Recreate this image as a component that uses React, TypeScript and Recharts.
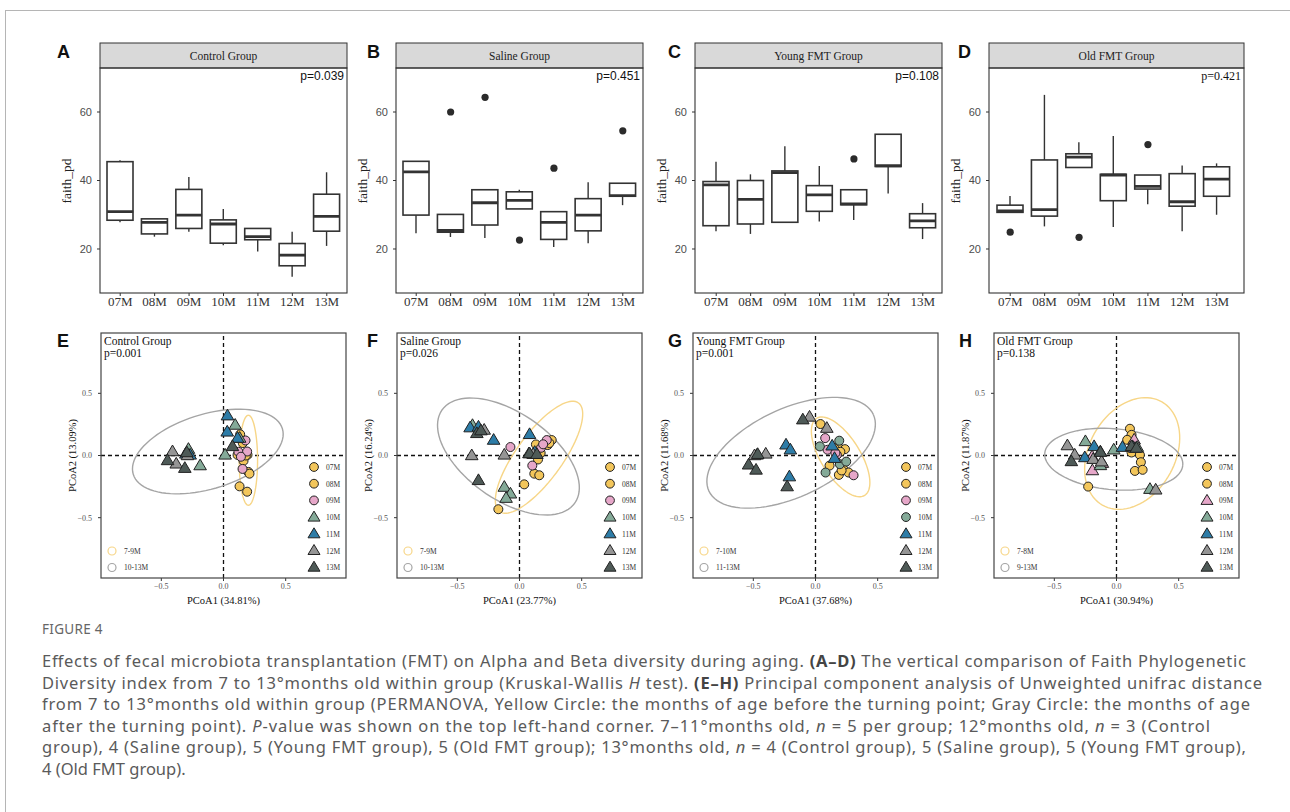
import React from "react";
import {
  ComposedChart,
  ScatterChart,
  Bar,
  Scatter,
  XAxis,
  YAxis,
  ReferenceLine,
} from "recharts";

const months = ["07M", "08M", "09M", "10M", "11M", "12M", "13M"];

// Faith PD box stats per month: whisker low, Q1, median, Q3, whisker high, outlier
const ctrlLow = [27.8, 23.6, 25.0, 21.1, 19.3, 11.9, 20.9];
const ctrlQ1 = [28.4, 24.4, 26.0, 21.7, 22.7, 15.1, 25.2];
const ctrlMed = [30.9, 27.8, 29.9, 27.3, 23.6, 18.2, 29.5];
const ctrlQ3 = [45.5, 28.8, 37.4, 28.5, 26.0, 21.6, 36.0];
const ctrlHigh = [45.9, 28.8, 41.0, 31.7, 26.0, 25.0, 42.4];
const ctrlOut = [null, null, null, null, null, null, null];

const salLow = [24.6, 23.5, 23.2, 31.7, 20.6, 21.7, 32.8];
const salQ1 = [29.9, 24.9, 27.0, 31.7, 22.8, 25.3, 35.4];
const salMed = [42.5, 25.4, 33.5, 34.2, 27.8, 29.9, 35.6];
const salQ3 = [45.6, 30.1, 37.3, 36.7, 30.9, 34.7, 39.2];
const salHigh = [45.6, 30.1, 37.3, 37.3, 30.9, 39.5, 39.2];
const salOut = [null, 60.0, 64.3, 22.6, 43.6, null, 54.5];

const youngLow = [25.2, 24.4, 27.8, 28.0, 28.5, 36.2, 22.9];
const youngQ1 = [26.8, 27.3, 27.8, 31.0, 32.9, 44.1, 26.2];
const youngMed = [38.7, 34.5, 42.3, 35.8, 33.2, 44.3, 28.2];
const youngQ3 = [39.7, 40.0, 42.8, 38.5, 37.3, 53.5, 30.3];
const youngHigh = [45.5, 41.8, 50.0, 44.2, 37.3, 53.5, 33.4];
const youngOut = [null, null, null, null, 46.3, null, null];

const oldLow = [30.7, 26.6, 43.8, 26.4, 33.1, 25.2, 30.0];
const oldQ1 = [30.7, 29.6, 43.8, 34.1, 37.5, 32.5, 35.4];
const oldMed = [31.1, 31.5, 46.8, 41.6, 38.3, 33.8, 40.4];
const oldQ3 = [32.8, 46.0, 47.8, 41.8, 41.6, 42.0, 44.0];
const oldHigh = [35.5, 65.0, 51.2, 53.0, 41.6, 44.4, 45.0];
const oldOut = [24.9, null, 23.4, null, 50.5, null, null];

// PCoA coordinates [PCoA1, PCoA2] per month
const ctrlPts: Record<string, number[][]> = {
  "07M": [[0.134, 0.17], [0.113, 0.005], [0.2, -0.132], [0.129, -0.248], [0.19, -0.291]],
  "08M": [[0.155, 0.1], [0.193, 0.005], [0.161, -0.043], [0.209, -0.146], [0.18, 0.0]],
  "09M": [[0.177, 0.121], [0.12, 0.03], [0.19, 0.032], [0.153, -0.108], [0.14, -0.01]],
  "10M": [[0.094, 0.245], [-0.282, 0.051], [-0.188, -0.081], [0.013, 0.005], [0.13, 0.14]],
  "11M": [[0.032, 0.32], [0.03, 0.19], [0.113, 0.14], [-0.303, 0.013], [-0.268, 0.005]],
  "12M": [[-0.41, 0.032], [-0.38, -0.067], [-0.29, 0.0]],
  "13M": [[-0.45, -0.04], [-0.311, -0.102], [0.072, 0.073], [-0.295, 0.024]],
};
const salPts: Record<string, number[][]> = {
  "07M": [[0.132, 0.089], [0.259, 0.124], [0.227, 0.084], [0.149, -0.032], [0.038, -0.232]],
  "08M": [[0.119, -0.146], [0.159, -0.159], [-0.17, -0.432], [0.17, 0.02], [0.24, 0.1]],
  "09M": [[0.219, 0.124], [0.173, 0.062], [-0.073, 0.068], [0.103, -0.081], [0.19, 0.09]],
  "10M": [[-0.378, 0.243], [-0.122, -0.254], [-0.073, -0.308], [-0.108, -0.343], [0.076, 0.016]],
  "11M": [[-0.397, 0.224], [-0.208, 0.124], [0.081, 0.17], [0.122, 0.027], [-0.33, 0.23]],
  "12M": [[-0.284, 0.205], [-0.384, 0.0], [-0.122, 0.005], [0.11, 0.01]],
  "13M": [[-0.343, 0.178], [-0.33, -0.2], [0.081, 0.016], [0.14, 0.01], [-0.31, 0.2]],
};
const youngPts: Record<string, number[][]> = {
  "07M": [[0.04, 0.253], [0.18, 0.073], [0.113, -0.081], [0.188, -0.156], [0.237, 0.051]],
  "08M": [[0.224, -0.11], [0.266, -0.137], [0.15, 0.06], [0.21, -0.12], [0.2, 0.03]],
  "09M": [[0.078, 0.14], [0.097, 0.046], [0.172, 0.005], [0.306, -0.159], [0.16, 0.02]],
  "10M": [[0.035, 0.073], [0.191, 0.119], [0.196, -0.07], [0.247, -0.049], [0.081, -0.137]],
  "11M": [[-0.237, 0.086], [-0.202, 0.046], [-0.21, -0.17], [0.134, 0.078], [0.153, -0.022]],
  "12M": [[-0.048, 0.31], [0.091, 0.22], [-0.47, 0.005], [-0.4, 0.013], [-0.49, 0.0]],
  "13M": [[-0.102, 0.288], [-0.538, -0.075], [-0.478, -0.116], [-0.465, 0.01], [-0.228, -0.25]],
};
const oldPts: Record<string, number[][]> = {
  "07M": [[0.108, 0.215], [0.121, 0.166], [0.086, 0.126], [0.121, 0.024], [0.188, 0.005]],
  "08M": [[0.196, -0.054], [0.148, -0.124], [0.21, -0.115], [-0.228, -0.25], [0.13, 0.09]],
  "09M": [[0.142, 0.126], [0.148, 0.059], [-0.196, -0.008], [-0.194, -0.121], [-0.113, -0.062]],
  "10M": [[-0.25, 0.113], [-0.022, 0.046], [0.269, -0.271], [0.167, 0.067], [-0.129, -0.08]],
  "11M": [[-0.18, 0.073], [-0.255, -0.016], [0.048, 0.067], [0.129, 0.073], [-0.13, 0.03]],
  "12M": [[-0.336, 0.005], [-0.188, -0.03], [0.315, -0.276], [-0.395, 0.08], [-0.12, -0.05]],
  "13M": [[-0.363, -0.048], [-0.129, 0.027], [0.121, 0.073], [0.16, 0.06]],
};

// confidence ellipses: [centre x, centre y, semi-major, semi-minor, angle deg]
const ctrlEll = [[0.2, -0.038, 0.362, 0.074, 90], [-0.126, 0.032, 0.627, 0.3, 17]];
const salEll = [[0.157, -0.014, 0.54, 0.186, 54], [-0.089, -0.008, 0.652, 0.348, -35]];
const youngEll = [[0.202, -0.011, 0.365, 0.158, -58], [-0.196, 0.022, 0.729, 0.355, 25]];
const oldEll = [[0.126, 0.016, 0.479, 0.344, 60], [-0.022, -0.03, 0.557, 0.245, -5]];

const SERIF = "'Liberation Serif', 'DejaVu Serif', serif";
const SANS = "'Liberation Sans', Arial, sans-serif";

const COLORS: Record<string, string> = {
  "07M": "#f3c65b",
  "08M": "#f3c65b",
  "09M": "#e6a7c9",
  "10M": "#84aa98",
  "11M": "#2d7ca7",
  "12M": "#959595",
  "13M": "#4e5a57",
};

const ellipsePoints = (e: number[]) => {
  const [cx, cy, a, b, deg] = e;
  const th = (deg * Math.PI) / 180;
  const pts = [];
  for (let k = 0; k <= 90; k++) {
    const t = (k / 90) * 2 * Math.PI;
    pts.push({
      x: cx + a * Math.cos(t) * Math.cos(th) - b * Math.sin(t) * Math.sin(th),
      y: cy + a * Math.cos(t) * Math.sin(th) + b * Math.sin(t) * Math.cos(th),
    });
  }
  return pts;
};

const Whisker = (p: any) => {
  const cx = p.x + p.width / 2;
  const y0 = Math.min(p.y, p.y + p.height);
  const y1 = Math.max(p.y, p.y + p.height);
  return <line x1={cx} x2={cx} y1={y0} y2={y1} stroke="#333" strokeWidth={1.4} />;
};

const BoxRect = (p: any) => (
  <rect
    x={p.x}
    y={Math.min(p.y, p.y + p.height)}
    width={p.width}
    height={Math.abs(p.height)}
    fill="#fff"
    stroke="#333"
    strokeWidth={1.6}
  />
);

const MedianLine = (p: any) => {
  if (p.cx == null || p.cy == null || isNaN(p.cy)) return <g />;
  return <line x1={p.cx - 13} x2={p.cx + 13} y1={p.cy} y2={p.cy} stroke="#333" strokeWidth={2.8} />;
};

const Outlier = (p: any) => {
  if (p.payload == null || p.payload.out == null || isNaN(p.cy)) return <g />;
  return <circle cx={p.cx} cy={p.cy} r={3.6} fill="#2b2b2b" />;
};

function BoxPanel(props: any) {
  const { left, width, low, q1, med, q3, high, out, pad } = props;
  const data = months.map((m, i) => ({
    m,
    whisk: [low[i], high[i]],
    box: [q1[i], q3[i]],
    med: med[i],
    out: out[i],
  }));
  return (
    <div style={{ position: "absolute", left: left - 40, top: 68 }}>
      <ComposedChart width={40 + width + 2} height={225 + 30} data={data} margin={{ top: 0, right: 2, bottom: 0, left: 0 }}>
        <XAxis
          xAxisId="main"
          dataKey="m"
          type="category"
          padding={pad}
          height={30}
          axisLine={false}
          tickSize={3}
          tickMargin={1}
          tickLine={{ stroke: "#333" }}
          tick={{ fontSize: 13, fill: "#333", fontFamily: SERIF }}
          interval={0}
        />
        <XAxis xAxisId="w" dataKey="m" type="category" padding={pad} orientation="top" height={0} hide />
        <XAxis xAxisId="b" dataKey="m" type="category" padding={pad} orientation="top" height={0} hide />
        <YAxis
          type="number"
          domain={[7.15, 72.85]}
          ticks={[20, 40, 60]}
          width={40}
          axisLine={false}
          tickSize={3}
          tickMargin={5}
          tickLine={{ stroke: "#333" }}
          tick={{ fontSize: 11, fill: "#4d4d4d", fontFamily: SANS }}
          allowDataOverflow
        />
        <Bar xAxisId="w" dataKey="whisk" barSize={26} shape={Whisker} isAnimationActive={false} />
        <Bar xAxisId="b" dataKey="box" barSize={26} shape={BoxRect} isAnimationActive={false} />
        <Scatter xAxisId="main" dataKey="med" shape={MedianLine} isAnimationActive={false} />
        <Scatter xAxisId="main" dataKey="out" shape={Outlier} isAnimationActive={false} />
      </ComposedChart>
    </div>
  );
}

const Marker = (kind: string, color: string) => (p: any) => {
  const { cx, cy } = p;
  if (cx == null || cy == null) return <g />;
  if (kind === "c")
    return <circle cx={cx} cy={cy} r={4.5} fill={color} stroke="#222" strokeWidth={1} />;
  return (
    <polygon
      points={`${cx},${cy - 6.5} ${cx - 6.3},${cy + 4.2} ${cx + 6.3},${cy + 4.2}`}
      fill={color}
      stroke="#222"
      strokeWidth={1}
      strokeLinejoin="round"
    />
  );
};

const NoDot = () => <g />;

function PcoaPanel(props: any) {
  const { left, pts, ell, kinds } = props;
  const top = 333;
  return (
    <div style={{ position: "absolute", left: left - 30, top }}>
      <ScatterChart width={30 + 245 + 2} height={245 + 20} margin={{ top: 0, right: 2, bottom: 0, left: 0 }}>
        <XAxis
          type="number"
          dataKey="x"
          domain={[-0.985, 0.985]}
          ticks={[-0.5, 0, 0.5]}
          tickFormatter={(v: number) => (v === 0 ? "0.0" : v.toFixed(1).replace("-", "\u2212"))}
          height={20}
          axisLine={false}
          tickSize={3}
          tickMargin={2}
          tickLine={{ stroke: "#333" }}
          tick={{ fontSize: 8, fill: "#555", fontFamily: SERIF }}
          allowDataOverflow
        />
        <YAxis
          type="number"
          dataKey="y"
          domain={[-0.985, 0.985]}
          ticks={[-0.5, 0, 0.5]}
          tickFormatter={(v: number) => (v === 0 ? "0.0" : v.toFixed(1).replace("-", "\u2212"))}
          width={30}
          axisLine={false}
          tickSize={3}
          tickMargin={6}
          tickLine={{ stroke: "#333" }}
          tick={{ fontSize: 8, fill: "#555", fontFamily: SERIF }}
          allowDataOverflow
        />
        <ReferenceLine x={0} stroke="#111" strokeWidth={1.3} strokeDasharray="4 3" />
        <ReferenceLine y={0} stroke="#111" strokeWidth={1.3} strokeDasharray="4 3" />
        <Scatter
          data={ellipsePoints(ell[0])}
          line={{ stroke: "#f7d688", strokeWidth: 1.4 }}
          shape={NoDot}
          isAnimationActive={false}
        />
        <Scatter
          data={ellipsePoints(ell[1])}
          line={{ stroke: "#a5a5a5", strokeWidth: 1.4 }}
          shape={NoDot}
          isAnimationActive={false}
        />
        {months.map((m, i) => (
          <Scatter
            key={m}
            data={pts[m].map((d: number[]) => ({ x: d[0], y: d[1] }))}
            shape={Marker(kinds[i], COLORS[m])}
            isAnimationActive={false}
          />
        ))}
      </ScatterChart>
    </div>
  );
}

const boxPanels = [
  { key: "A", left: 100, width: 247, pad: { left: 3, right: 3 }, title: "Control Group", p: "p=0.039", pSerif: false, lx: 57,
    low: ctrlLow, q1: ctrlQ1, med: ctrlMed, q3: ctrlQ3, high: ctrlHigh, out: ctrlOut },
  { key: "B", left: 396, width: 247, pad: { left: 3, right: 3 }, title: "Saline Group", p: "p=0.451", pSerif: false, lx: 367,
    low: salLow, q1: salQ1, med: salMed, q3: salQ3, high: salHigh, out: salOut },
  { key: "C", left: 695, width: 247, pad: { left: 4, right: 2 }, title: "Young FMT Group", p: "p=0.108", pSerif: false, lx: 668,
    low: youngLow, q1: youngQ1, med: youngMed, q3: youngQ3, high: youngHigh, out: youngOut },
  { key: "D", left: 989, width: 255, pad: { left: 4, right: 10 }, title: "Old FMT Group", p: "p=0.421", pSerif: true, lx: 958,
    low: oldLow, q1: oldQ1, med: oldMed, q3: oldQ3, high: oldHigh, out: oldOut },
];

const pcoaPanels = [
  { key: "E", left: 101, title: "Control Group", p: "p=0.001", xl: "PCoA1 (34.81%)", yl: "PCoA2 (13.09%)", lx: 57,
    pts: ctrlPts, ell: ctrlEll, kinds: ["c", "c", "c", "t", "t", "t", "t"], leg: ["7-9M", "10-13M"] },
  { key: "F", left: 397, title: "Saline Group", p: "p=0.026", xl: "PCoA1 (23.77%)", yl: "PCoA2 (16.24%)", lx: 367,
    pts: salPts, ell: salEll, kinds: ["c", "c", "c", "t", "t", "t", "t"], leg: ["7-9M", "10-13M"] },
  { key: "G", left: 693, title: "Young FMT Group", p: "p=0.001", xl: "PCoA1 (37.68%)", yl: "PCoA2 (11.68%)", lx: 668,
    pts: youngPts, ell: youngEll, kinds: ["c", "c", "c", "c", "t", "t", "t"], leg: ["7-10M", "11-13M"] },
  { key: "H", left: 994, title: "Old FMT Group", p: "p=0.138", xl: "PCoA1 (30.94%)", yl: "PCoA2 (11.87%)", lx: 959,
    pts: oldPts, ell: oldEll, kinds: ["c", "c", "t", "t", "t", "t", "t"], leg: ["7-8M", "9-13M"] },
];

function LegendSym({ kind, color, x, y }: any) {
  if (kind === "c") return <circle cx={x} cy={y} r={4.4} fill={color} stroke="#222" strokeWidth={1} />;
  return (
    <polygon
      points={`${x},${y - 6} ${x - 6},${y + 4} ${x + 6},${y + 4}`}
      fill={color}
      stroke="#222"
      strokeWidth={1}
      strokeLinejoin="round"
    />
  );
}

export default function App() {
  const capFont = "'Noto Sans', 'Open Sans', sans-serif";
  return (
    <div style={{ position: "absolute", left: 0, top: 0, width: 1290, height: 812, background: "#fff" }}>
      {boxPanels.map((b) => (
        <BoxPanel key={b.key} {...b} />
      ))}
      {pcoaPanels.map((p) => (
        <PcoaPanel key={p.key} {...p} />
      ))}
      <svg width={1290} height={812} style={{ position: "absolute", left: 0, top: 0, pointerEvents: "none" }}>
        <line x1={5} x2={1290} y1={10.5} y2={10.5} stroke="#b5b5b5" strokeWidth={1} />
        <line x1={5.5} x2={5.5} y1={10} y2={812} stroke="#b5b5b5" strokeWidth={1} />
        {boxPanels.map((b) => (
          <g key={b.key}>
            <text x={b.lx} y={58} fontFamily={SANS} fontWeight="bold" fontSize={18} fill="#111">{b.key}</text>
            <rect x={b.left} y={43} width={b.width} height={25} fill="#d9d9d9" stroke="#333" strokeWidth={1} />
            <text x={b.left + b.width / 2} y={60} textAnchor="middle" fontFamily={SERIF} fontSize={11.5} fill="#222">{b.title}</text>
            <rect x={b.left} y={68} width={b.width} height={225} fill="none" stroke="#333" strokeWidth={1.1} />
            <text x={b.left + b.width - 3} y={80} textAnchor="end" fontFamily={b.pSerif ? SERIF : SANS} fontSize={12} fill="#111">{b.p}</text>
            <text transform={`translate(${b.left - 34},181) rotate(-90)`} textAnchor="middle" dominantBaseline="central" fontFamily={SERIF} fontSize={13.5} fill="#222">faith_pd</text>
          </g>
        ))}
        {pcoaPanels.map((p) => {
          const fb = 333 + 245;
          const fr = p.left + 245;
          return (
            <g key={p.key}>
              <text x={p.lx} y={347} fontFamily={SANS} fontWeight="bold" fontSize={18} fill="#111">{p.key}</text>
              <rect x={p.left} y={333} width={245} height={245} fill="none" stroke="#444" strokeWidth={1.2} />
              <text x={p.left + 3} y={345} fontFamily={SERIF} fontSize={11.5} fill="#111">{p.title}</text>
              <text x={p.left + 3} y={357} fontFamily={SERIF} fontSize={11.5} fill="#111">{p.p}</text>
              <text x={p.left + 122.5} y={604} textAnchor="middle" fontFamily={SERIF} fontSize={10.5} fill="#111">{p.xl}</text>
              <text transform={`translate(${p.left - 29},455.5) rotate(-90)`} textAnchor="middle" dominantBaseline="central" fontFamily={SERIF} fontSize={10.5} fill="#111">{p.yl}</text>
              {months.map((m, i) => (
                <g key={m}>
                  <LegendSym kind={p.kinds[i]} color={COLORS[m]} x={fr - 32} y={fb - 111 + 16.7 * i} />
                  <text x={fr - 20} y={fb - 111 + 16.7 * i + 3} fontFamily={SERIF} fontSize={7.5} fill="#333">{m}</text>
                </g>
              ))}
              <circle cx={p.left + 11} cy={fb - 27} r={4} fill="none" stroke="#f7d688" strokeWidth={1.2} />
              <text x={p.left + 23} y={fb - 24.5} fontFamily={SERIF} fontSize={7.5} fill="#333">{p.leg[0]}</text>
              <circle cx={p.left + 11} cy={fb - 10.5} r={4} fill="none" stroke="#a5a5a5" strokeWidth={1.2} />
              <text x={p.left + 23} y={fb - 8} fontFamily={SERIF} fontSize={7.5} fill="#333">{p.leg[1]}</text>
            </g>
          );
        })}
        <text x={42} y={634} fontFamily={capFont} fontSize={13.5} fill="#666" letterSpacing={0.3}>FIGURE 4</text>
        <g fontFamily={capFont} fontSize={16.5} fill="#5a5a5a">
          <text x={42} y={667} textLength={1204} lengthAdjust="spacing">
            Effects of fecal microbiota transplantation (FMT) on Alpha and Beta diversity during aging.{" "}
            <tspan fontWeight="bold" fill="#444">(A–D)</tspan> The vertical comparison of Faith Phylogenetic
          </text>
          <text x={42} y={689} textLength={1220} lengthAdjust="spacing">
            Diversity index from 7 to 13°months old within group (Kruskal-Wallis <tspan fontStyle="italic">H</tspan> test).{" "}
            <tspan fontWeight="bold" fill="#444">(E–H)</tspan> Principal component analysis of Unweighted unifrac distance
          </text>
          <text x={42} y={710} textLength={1208} lengthAdjust="spacing">
            from 7 to 13°months old within group (PERMANOVA, Yellow Circle: the months of age before the turning point; Gray Circle: the months of age
          </text>
          <text x={42} y={732} textLength={1168} lengthAdjust="spacing">
            after the turning point). <tspan fontStyle="italic">P</tspan>-value was shown on the top left-hand corner. 7–11°months old,{" "}
            <tspan fontStyle="italic">n</tspan> = 5 per group; 12°months old, <tspan fontStyle="italic">n</tspan> = 3 (Control
          </text>
          <text x={42} y={753} textLength={1204} lengthAdjust="spacing">
            group), 4 (Saline group), 5 (Young FMT group), 5 (Old FMT group); 13°months old, <tspan fontStyle="italic">n</tspan> = 4
            (Control group), 5 (Saline group), 5 (Young FMT group),
          </text>
          <text x={42} y={775}>4 (Old FMT group).</text>
        </g>
      </svg>
    </div>
  );
}
